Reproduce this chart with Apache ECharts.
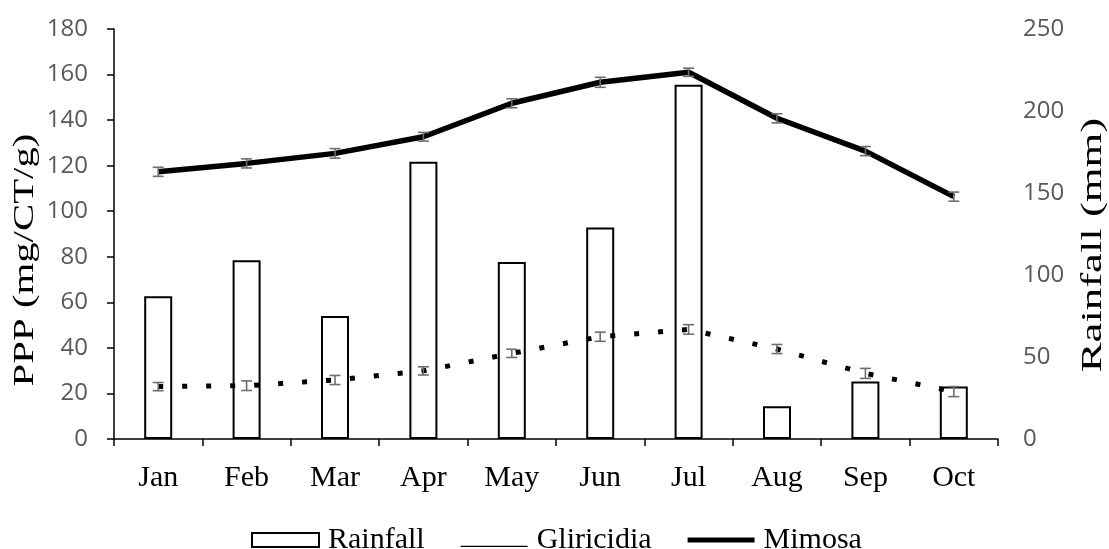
<!DOCTYPE html>
<html>
<head>
<meta charset="utf-8">
<script src="https://cdn.jsdelivr.net/npm/echarts@6/dist/echarts.min.js"></script>
<style>html,body{margin:0;padding:0;background:#fff;}#c{width:1109px;height:549px;}</style>
</head>
<body>
<div id="c"></div>
<script>
const months = ['Jan','Feb','Mar','Apr','May','Jun','Jul','Aug','Sep','Oct'];
const rainfall = [87, 109, 75, 169, 108, 129, 216, 20, 35, 32];
const gliricidia = [23.0, 23.4, 25.9, 29.9, 37.6, 44.9, 48.1, 39.5, 28.8, 20.8];
const gliricidiaErr = [1.8, 2.1, 2.0, 1.8, 1.8, 2.0, 2.1, 2.0, 2.2, 2.2];
const mimosa = [117.3, 121.0, 125.4, 132.7, 147.4, 156.6, 161.0, 140.8, 126.4, 106.4];
const mimosaErr = [2.0, 2.0, 2.1, 1.9, 2.0, 2.2, 1.8, 2.0, 2.0, 2.0];
const leftAxis = {min: 0, max: 180, interval: 20};
const rightAxis = {min: 0, max: 250, interval: 50};

const serif = '"Liberation Serif", "Times New Roman", serif';
const sans = '"Open Sans", "Liberation Sans", sans-serif';

function errData(vals, errs) {
  return vals.map((v, i) => [i, v - errs[i], v + errs[i]]);
}
function renderErr(params, api) {
  const x = api.value(0);
  const lo = api.coord([x, api.value(1)]);
  const hi = api.coord([x, api.value(2)]);
  const hw = 5.5;
  const st = {stroke: '#6e6e6e', lineWidth: 1.6};
  return {type: 'group', children: [
    {type: 'line', shape: {x1: lo[0], y1: lo[1], x2: hi[0], y2: hi[1]}, style: st},
    {type: 'line', shape: {x1: lo[0] - hw, y1: lo[1], x2: lo[0] + hw, y2: lo[1]}, style: st},
    {type: 'line', shape: {x1: hi[0] - hw, y1: hi[1], x2: hi[0] + hw, y2: hi[1]}, style: st}
  ]};
}

const chart = echarts.init(document.getElementById('c'), null, {renderer: 'canvas'});
chart.setOption({
  animation: false,
  backgroundColor: '#fff',
  grid: {left: 114, right: 111, top: 29, bottom: 110, containLabel: false},
  legend: {
    left: 246, top: 520,
    itemWidth: 67, itemHeight: 14, itemGap: 36,
    textStyle: {fontFamily: serif, fontSize: 30, color: '#000', padding: [0, 0, 0, 4]},
    data: [
      {name: 'Rainfall', icon: 'rect'},
      {name: 'Gliricidia', icon: 'path://M0,0 L0,14 M0,12.8 L67,12.8 L67,14 L0,14 Z', itemStyle: {color: '#000', borderWidth: 0}},
      {name: 'Mimosa', icon: 'path://M0,0 L0,14 M0,4.5 L67,4.5 L67,9.5 L0,9.5 Z', itemStyle: {color: '#000', borderWidth: 0}}
    ]
  },
  xAxis: {
    type: 'category', data: months, boundaryGap: true,
    axisLine: {show: true, lineStyle: {color: '#000', width: 1.5}},
    axisTick: {show: true, length: 7, lineStyle: {color: '#000', width: 1.5}},
    axisLabel: {fontFamily: serif, fontSize: 30, color: '#000', margin: 24}
  },
  yAxis: [
    {
      type: 'value', min: leftAxis.min, max: leftAxis.max, interval: leftAxis.interval,
      axisLine: {show: true, lineStyle: {color: '#000', width: 1.5}},
      axisTick: {show: true, length: 7, lineStyle: {color: '#000', width: 1.5}},
      splitLine: {show: false},
      axisLabel: {fontFamily: sans, fontSize: 24, color: '#595959', margin: 26}
    },
    {
      type: 'value', min: rightAxis.min, max: rightAxis.max, interval: rightAxis.interval,
      position: 'right',
      axisLine: {show: false}, axisTick: {show: false}, splitLine: {show: false},
      axisLabel: {fontFamily: sans, fontSize: 24, color: '#595959', margin: 25}
    }
  ],
  graphic: [
    {type: 'text', x: 25, y: 260, rotation: Math.PI / 2, scaleX: 1.36,
     style: {text: 'PPP (mg/CT/g)', font: '30px ' + serif, fill: '#000', align: 'center', verticalAlign: 'middle'}},
    {type: 'text', x: 1093, y: 245, rotation: Math.PI / 2, scaleX: 1.49,
     style: {text: 'Rainfall (mm)', font: '30px ' + serif, fill: '#000', align: 'center', verticalAlign: 'middle'}}
  ],
  series: [
    {
      name: 'Rainfall', type: 'bar', yAxisIndex: 1, data: rainfall, barWidth: 28, z: 1,
      itemStyle: {color: '#fff', borderColor: '#000', borderWidth: 2}
    },
    {
      name: 'Gliricidia', type: 'line', yAxisIndex: 0, data: gliricidia, z: 3,
      symbol: 'none', color: '#000',
      lineStyle: {color: '#000', width: 5, type: [5, 19], cap: 'butt'}
    },
    {
      name: 'Mimosa', type: 'line', yAxisIndex: 0, data: mimosa, z: 3,
      symbol: 'none', color: '#000',
      lineStyle: {color: '#000', width: 5.5}
    },
    {
      type: 'custom', yAxisIndex: 0, data: errData(gliricidia, gliricidiaErr), z: 5,
      encode: {x: 0, y: [1, 2]}, renderItem: renderErr
    },
    {
      type: 'custom', yAxisIndex: 0, data: errData(mimosa, mimosaErr), z: 5,
      encode: {x: 0, y: [1, 2]}, renderItem: renderErr
    }
  ]
});
</script>
</body>
</html>
